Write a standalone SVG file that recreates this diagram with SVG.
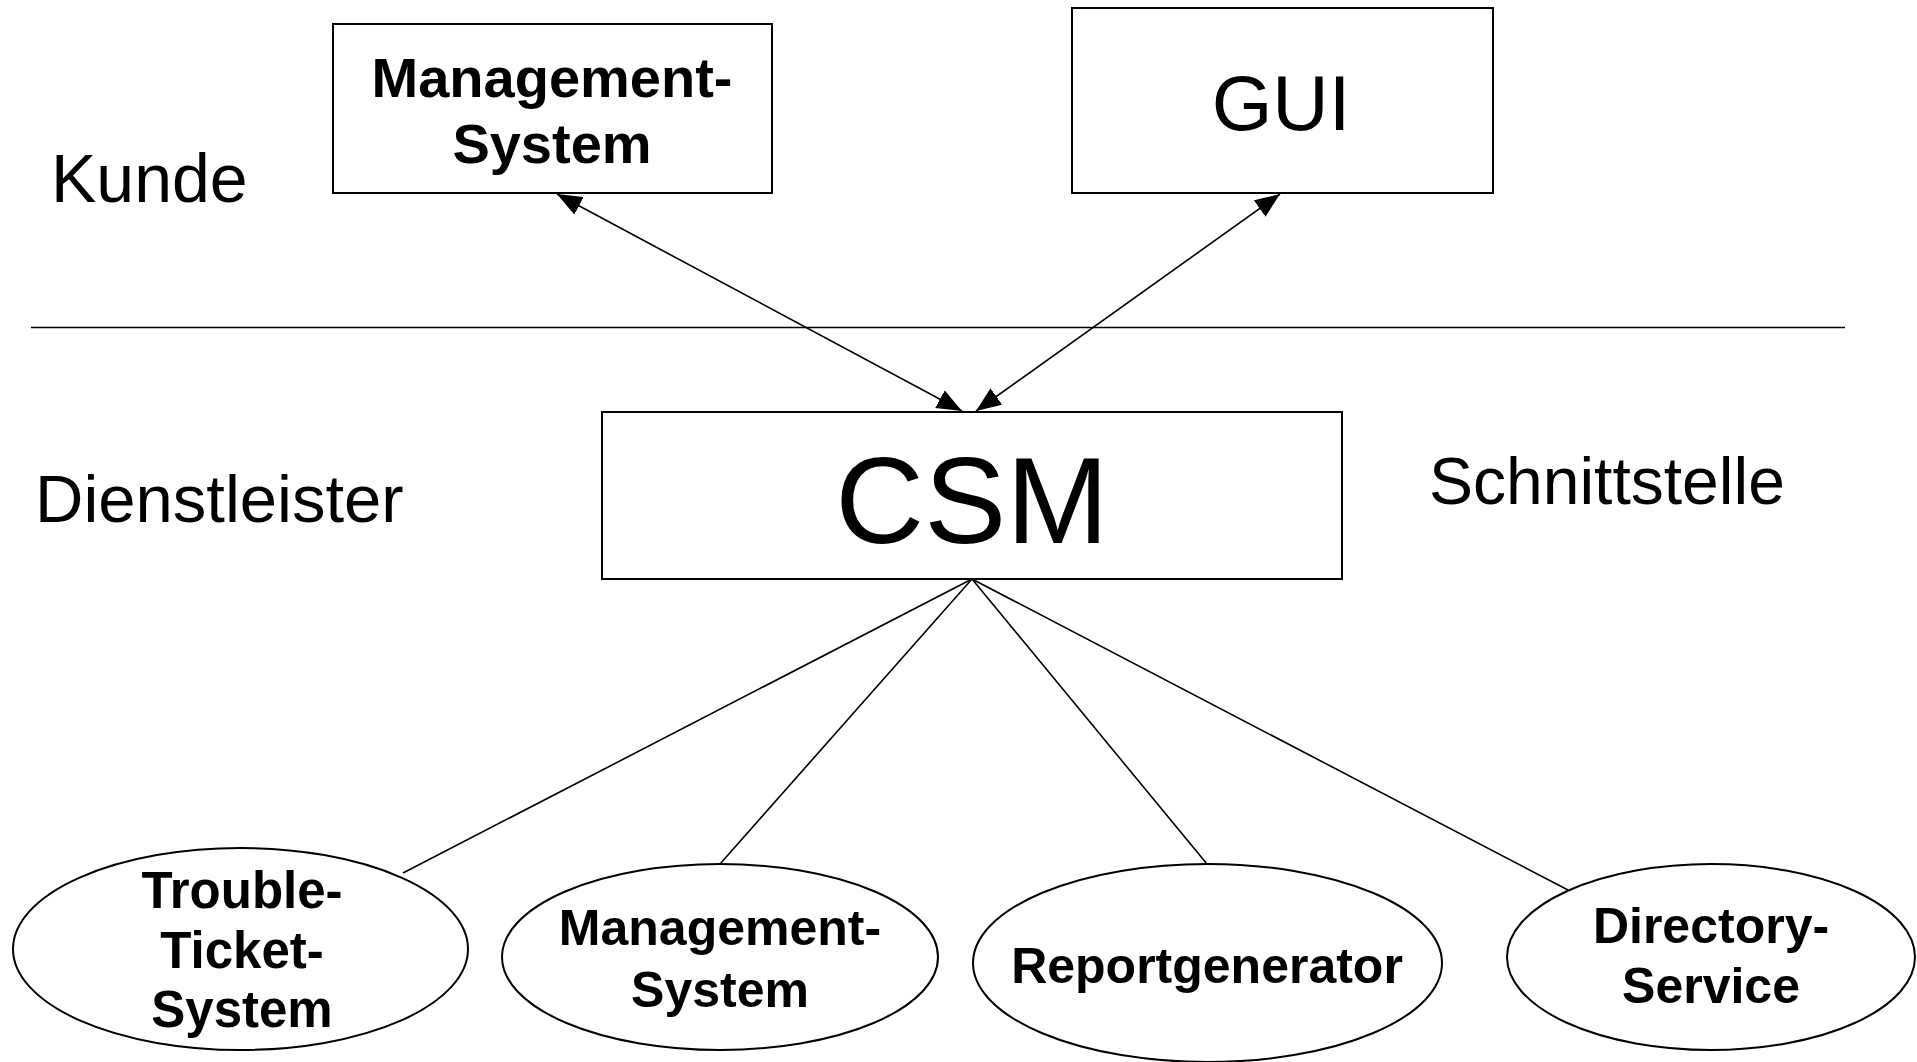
<svg xmlns="http://www.w3.org/2000/svg" width="1917" height="1062" viewBox="0 0 1917 1062">
<defs>
<style>
.box{fill:#fff;stroke:#000;stroke-width:2}
.ell{fill:#fff;stroke:#000;stroke-width:2}
.ln{stroke:#000;stroke-width:1.6;fill:none}
.t{font-family:"Liberation Sans",Arial,sans-serif;fill:#000;text-anchor:middle}
.b{font-weight:bold}
.lbl{font-family:"Liberation Sans",Arial,sans-serif;fill:#000}
</style>
<marker id="ah" viewBox="0 0 25 20" refX="25" refY="10" markerWidth="25" markerHeight="20" markerUnits="userSpaceOnUse" orient="auto-start-reverse">
<path d="M0,0 L25,10 L0,20 Z" fill="#000"/>
</marker>
</defs>
<rect width="1917" height="1062" fill="#fff"/>
<g id="labels">
<text class="lbl" x="51" y="202" font-size="68">Kunde</text>
<text class="lbl" x="35" y="522" font-size="67">Dienstleister</text>
<text class="lbl" x="1429" y="504" font-size="66">Schnittstelle</text>
</g>
<line id="divider" x1="31" y1="327.5" x2="1845" y2="327.5" class="ln"/>
<g id="connectors">
<line class="ln" x1="557" y1="194" x2="962" y2="411" marker-start="url(#ah)" marker-end="url(#ah)"/>
<line class="ln" x1="1280" y1="194" x2="976" y2="411" marker-start="url(#ah)" marker-end="url(#ah)"/>
<line class="ln" x1="972" y1="579" x2="403" y2="873"/>
<line class="ln" x1="972" y1="579" x2="720" y2="864"/>
<line class="ln" x1="972" y1="579" x2="1207" y2="864"/>
<line class="ln" x1="972" y1="579" x2="1568" y2="890"/>
</g>
<g id="mgmt-top">
<rect class="box" x="333" y="24" width="439" height="169"/>
<text class="t b" x="552" y="97" font-size="56">Management-</text>
<text class="t b" x="552" y="163" font-size="56">System</text>
</g>
<g id="gui">
<rect class="box" x="1072" y="8" width="421" height="185"/>
<text class="t" x="1281" y="130" font-size="78">GUI</text>
</g>
<g id="csm">
<rect class="box" x="602" y="412" width="740" height="167"/>
<text class="t" x="972" y="543" font-size="123">CSM</text>
</g>
<g id="trouble">
<ellipse class="ell" cx="240.5" cy="949" rx="227.5" ry="101"/>
<text class="t b" x="242" y="908" font-size="51">Trouble-</text>
<text class="t b" x="242" y="968" font-size="51">Ticket-</text>
<text class="t b" x="242" y="1027" font-size="51">System</text>
</g>
<g id="mgmt-bottom">
<ellipse class="ell" cx="720" cy="957" rx="218" ry="93"/>
<text class="t b" x="720" y="945" font-size="50">Management-</text>
<text class="t b" x="720" y="1007" font-size="50">System</text>
</g>
<g id="report">
<ellipse class="ell" cx="1207.5" cy="963" rx="234.5" ry="99"/>
<text class="t b" x="1207" y="983" font-size="50">Reportgenerator</text>
</g>
<g id="directory">
<ellipse class="ell" cx="1711" cy="957" rx="204" ry="93"/>
<text class="t b" x="1711" y="943" font-size="50">Directory-</text>
<text class="t b" x="1711" y="1003" font-size="50">Service</text>
</g>
</svg>
